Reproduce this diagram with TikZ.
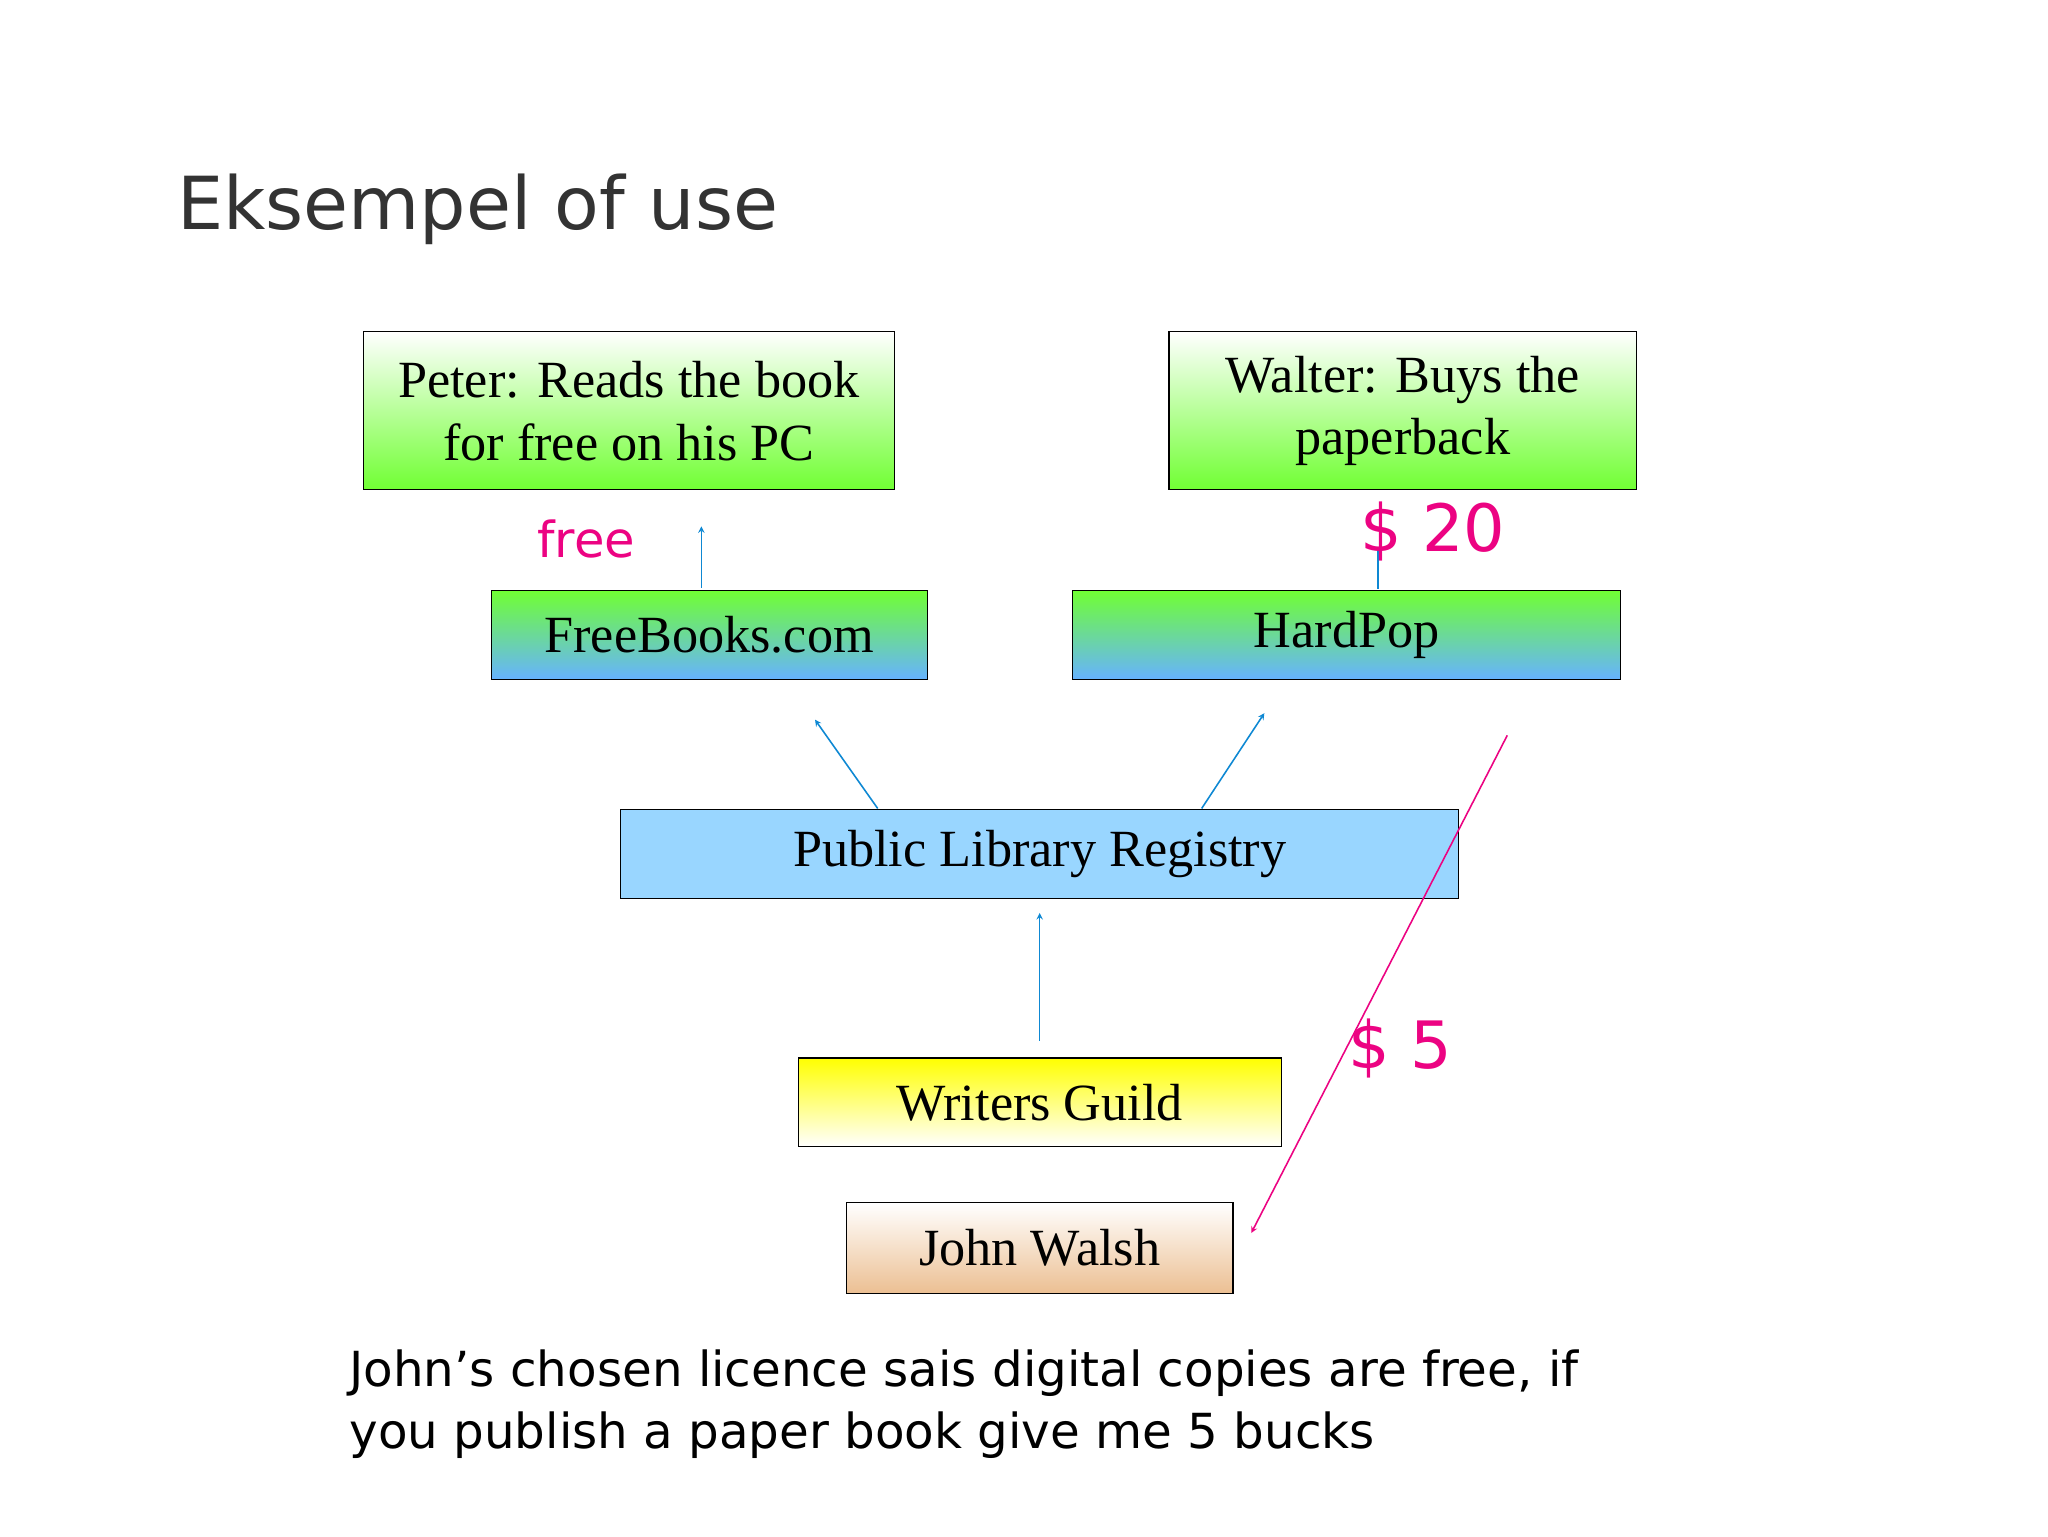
\documentclass[tikz,border=0pt]{standalone}
\usepackage{fontspec}
\setmainfont{Liberation Serif}
\newfontfamily\sansf{DejaVu Sans}
\begin{document}
\begin{tikzpicture}[x=1pt,y=-1pt,
 box/.style={draw=black,line width=0.8pt,inner sep=0pt,font=\fontsize{40}{48}\selectfont,align=center},
 blu/.style={draw=cyan!70!blue,line width=1.2pt,-stealth},
 pink/.style={text=magenta!90!red,font=\sansf}]
\useasboundingbox[fill=white] (0,0) rectangle (1568,1176);
\node[anchor=west,text=black!80,font=\sansf\fontsize{56}{60}\selectfont] (title) at (132,160) {Eksempel of use};
\node[box,minimum width=407,minimum height=121,top color=white,bottom color=green!60!lime!80] (peter) at (481.5,314.5) {Peter: Reads the book\\for free on his PC};
\node[box,minimum width=358,minimum height=121,top color=white,bottom color=green!60!lime!80] (walter) at (1074,314.5) {Walter: Buys the\\paperback};
\node[box,minimum width=334,minimum height=68,top color=green!60!lime!80,bottom color=cyan!50!blue!60] (free) at (543,486) {FreeBooks.com};
\node[box,minimum width=420,minimum height=68,top color=green!60!lime!80,bottom color=cyan!50!blue!60] (hard) at (1031,486) {HardPop};
\node[box,minimum width=642,minimum height=68,top color=cyan!60!blue!40,middle color=white,bottom color=cyan!60!blue!40] (plr) at (796,654) {Public Library Registry};
\node[box,minimum width=370,minimum height=68,top color=yellow,bottom color=white] (wg) at (796,844) {Writers Guild};
\node[box,minimum width=296,minimum height=69,top color=white,bottom color=brown!60!orange!50] (jw) at (796,955.5) {John Walsh};
\coordinate (a1s) at (537,450); \coordinate (a1e) at (537,403);
\coordinate (a2s) at (672,619); \coordinate (a2e) at (624,551);
\coordinate (a3s) at (920,619); \coordinate (a3e) at (968,546);
\coordinate (a4s) at (796,797); \coordinate (a4e) at (796,699);
\coordinate (a5s) at (1055,420); \coordinate (a5e) at (1055,451);
\coordinate (p1) at (1154,563); \coordinate (p2) at (958,944);
\draw[blu] (a1s) -- (a1e);
\draw[blu] (a2s) -- (a2e);
\draw[blu] (a3s) -- (a3e);
\draw[blu] (a4s) -- (a4e);
\draw[draw=cyan!70!blue,line width=1.2pt] (a5s) -- (a5e);
\draw[draw=magenta!90!red,line width=1.2pt,-stealth] (p1) -- (p2);
\node[pink,font=\sansf\fontsize{38}{40}\selectfont] (lfree) at (449,413) {free};
\node[pink,font=\sansf\fontsize{50}{52}\selectfont] (l20) at (1097,407) {\$ 20};
\node[pink,font=\sansf\fontsize{50}{52}\selectfont] (l5) at (1072,803) {\$ 5};
\node[anchor=north west,align=left,font=\sansf\fontsize{37}{47}\selectfont,text=black] (cap) at (264,1030) {John’s chosen licence sais digital copies are free, if\\you publish a paper book give me 5 bucks};
\end{tikzpicture}
\end{document}
